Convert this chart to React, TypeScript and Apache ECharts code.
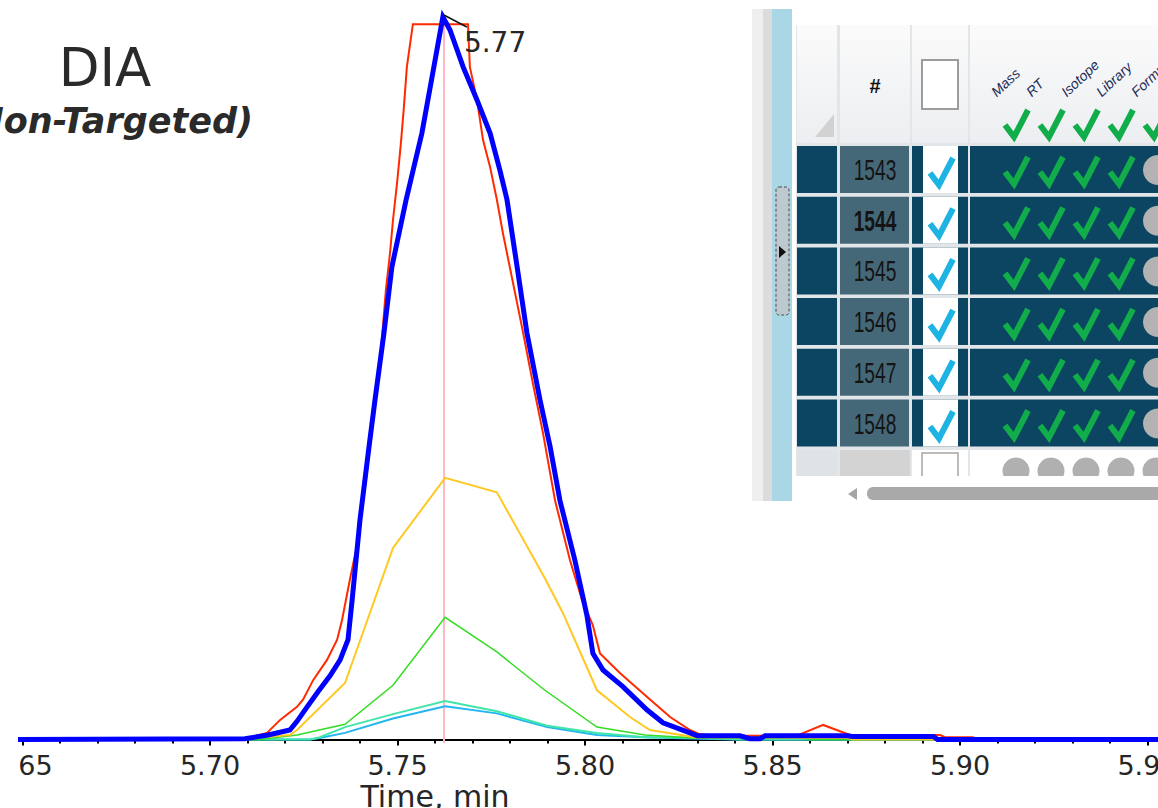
import React, { useEffect, useRef } from "react";
import * as echarts from "echarts";

// Extracted-ion chromatograms: retention time (min) and intensity (% of base peak)
const blueTime = [5.6488, 5.7093, 5.7155, 5.7213, 5.7232, 5.7259, 5.7288, 5.732, 5.7347, 5.7368, 5.7379, 5.74, 5.7424, 5.744, 5.7464, 5.7485, 5.7523, 5.7565, 5.7597, 5.7621, 5.764, 5.7675, 5.7712, 5.7747, 5.7773, 5.7792, 5.7819, 5.7845, 5.788, 5.7907, 5.7933, 5.7973, 5.8005, 5.8021, 5.8048, 5.8101, 5.8165, 5.8208, 5.828, 5.8299, 5.8413, 5.844, 5.8467, 5.848, 5.8701, 5.8712, 5.8929, 5.894, 5.98];
const blueIntensity = [0, 0.1, 0.6, 1.3, 2.5, 4.5, 6.6, 8.8, 11.0, 13.8, 19.3, 30.4, 40.5, 47.0, 56.3, 65.4, 74.7, 83.9, 93.1, 100, 98.2, 93.1, 88.5, 83.9, 78.8, 74.7, 65.4, 56.3, 47.0, 40.5, 33.1, 24.8, 17.2, 11.9, 9.6, 7.3, 4.1, 2.3, 0.9, 0.5, 0.5, 0.1, 0.1, 0.5, 0.5, 0.4, 0.4, 0, 0];

const redTime = [5.6488, 5.7093, 5.7107, 5.7152, 5.7187, 5.7232, 5.7248, 5.7275, 5.7312, 5.7339, 5.7352, 5.7373, 5.7395, 5.7416, 5.7432, 5.7445, 5.7456, 5.7469, 5.748, 5.7488, 5.7499, 5.7509, 5.7517, 5.7525, 5.7541, 5.7688, 5.7693, 5.7712, 5.7728, 5.7747, 5.7765, 5.7781, 5.7808, 5.7835, 5.7861, 5.7888, 5.792, 5.796, 5.7992, 5.8021, 5.804, 5.8093, 5.8165, 5.8227, 5.828, 5.8307, 5.836, 5.8565, 5.8635, 5.8712, 5.8869, 5.8947, 5.896, 5.9035, 5.904, 5.98];
const redIntensity = [0, 0, 0.3, 0.9, 2.7, 4.5, 5.5, 8.2, 11.0, 13.8, 16.5, 22.1, 27.6, 36.0, 42.9, 48.0, 53.9, 62.2, 67.3, 71.9, 77.1, 82.5, 87.5, 93.1, 99.0, 99.0, 93.1, 88.5, 83.0, 79.2, 74.7, 70.1, 63.2, 56.3, 49.3, 42.4, 33.1, 24.8, 19.3, 15.8, 11.9, 9.2, 5.9, 3.1, 1.3, 0.7, 0.5, 0.5, 2.0, 0.5, 0.6, 0.6, 0.3, 0.3, 0, 0];

const yellowTime = [5.6488, 5.7093, 5.7133, 5.7213, 5.7232, 5.736, 5.7488, 5.7627, 5.7765, 5.7893, 5.7941, 5.8032, 5.812, 5.8173, 5.8293, 5.8701, 5.8712, 5.98];
const yellowIntensity = [0, 0, 0.3, 0.6, 1.3, 7.8, 26.5, 36.2, 34.2, 22.3, 17.5, 6.8, 3.1, 1.3, 0.3, 0.2, 0, 0];

const greenTime = [5.6488, 5.7133, 5.7232, 5.736, 5.7488, 5.7627, 5.7765, 5.7893, 5.8032, 5.816, 5.8293, 5.8573, 5.86, 5.98];
const greenIntensity = [0, 0, 0.6, 2.1, 7.5, 16.9, 12.1, 6.8, 1.7, 0.6, 0.2, 0.2, 0, 0];

const aquaTime = [5.6488, 5.7267, 5.7293, 5.736, 5.7488, 5.7627, 5.7765, 5.7899, 5.8032, 5.816, 5.8307, 5.8413, 5.98];
const aquaIntensity = [0, 0, 0.3, 1.7, 3.5, 5.3, 3.9, 1.9, 0.9, 0.3, 0.2, 0, 0];

const cyanTime = [5.6488, 5.7267, 5.7293, 5.736, 5.7488, 5.7627, 5.7765, 5.7899, 5.8032, 5.816, 5.8307, 5.8413, 5.98];
const cyanIntensity = [0, 0, 0.2, 0.9, 2.9, 4.6, 3.6, 1.7, 0.6, 0.3, 0.1, 0, 0];

// Apex annotation and the retention-time marker
const apexTime = 5.7621;
const apexIntensity = 100;
const apexLabel = "5.77";
const markerTime = 5.7622;

// Axis range (min is a multiple of the tick interval)
const axisMin = 5.6;
const axisMax = 5.98;
const tickInterval = 0.05;

// Compound table shown in the results panel
const rowIds = [1543, 1544, 1545, 1546, 1547, 1548];
const selectedRow = 1544;
const scoreColumns = ["Mass", "RT", "Isotope", "Library", "Formula"];

const SHIFT = 200; // canvas starts this far to the left of the visible window
const px = (x: number) => x + SHIFT;

const zip = (t: number[], v: number[]) => t.map((x, i) => [x, v[i]]);

const DARK = "#0b4562";
const ID_CELL = "#456878";
const GREEN = "#12ad4b";
const CYAN = "#1db3e2";

function box(x: number, y: number, w: number, h: number, fill: any, z = 60, extra: any = {}) {
  const style: any = { fill };
  if (extra.stroke) {
    style.stroke = extra.stroke;
    style.lineWidth = extra.lineWidth ?? 1;
    if (extra.lineDash) style.lineDash = extra.lineDash;
  }
  return { type: "rect", z, shape: { x: px(x), y, width: w, height: h, r: extra.r ?? 0 }, style };
}

function check(cx: number, cy: number, color: string, z = 63) {
  return {
    type: "polyline",
    z,
    shape: { points: [[px(cx - 11), cy + 1], [px(cx - 2), cy + 13], [px(cx + 12), cy - 14]] },
    style: { stroke: color, lineWidth: 6, lineJoin: "miter", lineCap: "butt" },
  };
}

function label(x: number, y: number, text: string, font: string, fill: string, align: string, vAlign: string, z = 63, extra: any = {}) {
  return {
    type: "text",
    z,
    x: px(x),
    y,
    ...extra,
    style: { text, font, fill, align, verticalAlign: vAlign, textAlign: align, textVerticalAlign: vAlign },
  };
}

function panelGraphics(): any[] {
  const g: any[] = [];
  const headerFill = new echarts.graphic.LinearGradient(0, 0, 0, 1, [
    { offset: 0, color: "#fbfbfb" },
    { offset: 1, color: "#eceef1" },
  ]);
  // frame and side strips
  g.push(box(752, 9, 470, 492, "#ffffff", 55));
  g.push(box(752, 9, 11, 492, "#efefef", 56));
  g.push(box(763, 9, 9, 492, "#dcdcdc", 56));
  g.push(box(772, 9, 20, 492, "#a9d7e6", 56));
  g.push(box(776, 187, 13, 128, "#bccad0", 57, { stroke: "#4a4a4a", lineWidth: 1, lineDash: [3, 2], r: 3 }));
  g.push({ type: "polygon", z: 58, shape: { points: [[px(779), 246], [px(779), 258], [px(786), 252]] }, style: { fill: "#111" } });
  // grid lines background
  g.push(box(796, 25, 430, 451, "#e2e6e9", 57));
  // header
  g.push(box(797, 25, 40, 118, headerFill, 58));
  g.push(box(840, 25, 70, 118, headerFill, 58));
  g.push(box(912, 25, 56, 118, headerFill, 58));
  g.push(box(970, 25, 260, 118, headerFill, 58));
  g.push({ type: "polygon", z: 59, shape: { points: [[px(815), 137], [px(834), 137], [px(834), 114]] }, style: { fill: "#d2d2d2" } });
  g.push(label(875, 86, "#", 'bold 20px "Liberation Sans"', "#111", "center", "middle"));
  g.push(box(922, 60, 36, 49, "#ffffff", 59, { stroke: "#9c9c9c", lineWidth: 2 }));
  const rot = (43 * Math.PI) / 180;
  scoreColumns.forEach((name, i) => {
    g.push(label(998 + i * 35, 99, name, 'italic 14px "Liberation Sans"', "#1c2a55", "left", "bottom", 63, { rotation: rot }));
    g.push(check(1016 + i * 35, 124, GREEN));
  });
  // result rows
  rowIds.forEach((id, i) => {
    const y = 146 + i * 50.7;
    g.push(box(797, y, 40, 47, DARK, 60));
    g.push(box(840, y, 69, 47, ID_CELL, 60));
    g.push(box(912, y, 56, 47, DARK, 60));
    g.push(box(923, y, 35, 47, "#ffffff", 61));
    g.push(box(970, y, 260, 47, DARK, 60));
    g.push(
      label(875, y + 24, String(id), `${id === selectedRow ? "bold " : ""}24px "Liberation Sans"`, "#141414", "center", "middle", 63, {
        scaleX: 0.8,
        scaleY: 1.2,
      })
    );
    g.push(check(941, y + 26, CYAN));
    for (let k = 0; k < 4; k++) g.push(check(1016 + k * 35, y + 25, GREEN));
    g.push({ type: "circle", z: 62, shape: { cx: px(1158), cy: y + 24, r: 15 }, style: { fill: "#b3b3b3" } });
  });
  // empty new-row line
  g.push(box(797, 450, 40, 30, "#e0e3e6", 60));
  g.push(box(840, 450, 70, 30, "#d3d3d3", 60));
  g.push(box(912, 450, 56, 30, "#ffffff", 60));
  g.push(box(970, 450, 260, 30, "#ffffff", 60));
  g.push(box(922, 453, 36, 32, "#ffffff", 61, { stroke: "#a5a5a5", lineWidth: 1.5 }));
  for (let k = 0; k < 5; k++) {
    g.push({ type: "circle", z: 61, shape: { cx: px(1016 + k * 35), cy: 471, r: 13.5 }, style: { fill: "#b0b0b0" } });
  }
  g.push(box(796, 476, 430, 25, "#ffffff", 62));
  // horizontal scroll bar
  g.push({ type: "polygon", z: 63, shape: { points: [[px(848), 494], [px(857), 488], [px(857), 500]] }, style: { fill: "#a6a6a6" } });
  g.push(box(867, 487, 330, 13, "#a9a9a9", 63, { r: 6 }));
  return g;
}

function titleGraphics(): any[] {
  return [
    // keeps the plot edge at the left border of the figure
    { type: "rect", z: 80, shape: { x: 0, y: 0, width: px(18), height: 808 }, style: { fill: "#ffffff" } },
    label(105, 67, "DIA", '500 53px "DejaVu Sans"', "#2a2a2a", "center", "middle", 90),
    label(253, 121, "(Non-Targeted)", 'italic bold 35px "DejaVu Sans"', "#2a2a2a", "right", "middle", 90),
    label(435, 796, "Time, min", '30px "DejaVu Sans"', "#262626", "center", "middle", 90),
  ];
}

export default function App() {
  const ref = useRef<HTMLDivElement>(null);

  useEffect(() => {
    if (!ref.current) return;
    const chart = echarts.init(ref.current, undefined, { renderer: "svg" });
    const lineSeries = (name: string, t: number[], v: number[], color: string, width: number, extra: any = {}) => ({
      name,
      type: "line",
      data: zip(t, v),
      showSymbol: false,
      symbol: "none",
      clip: false,
      lineStyle: { color, width, join: "miter" },
      itemStyle: { color },
      ...extra,
    });

    chart.setOption({
      animation: false,
      backgroundColor: "#ffffff",
      grid: { left: 35, right: 40, top: 17, bottom: 65 },
      xAxis: {
        type: "value",
        min: axisMin,
        max: axisMax,
        interval: tickInterval,
        axisLine: { show: true, lineStyle: { color: "#000", width: 2 } },
        axisTick: { show: true, length: 6, lineStyle: { color: "#000", width: 2 } },
        minorTick: { show: true, splitNumber: 5, length: 4, lineStyle: { color: "#000", width: 2 } },
        splitLine: { show: false },
        axisLabel: {
          margin: 9,
          fontFamily: "DejaVu Sans",
          fontSize: 27,
          color: "#262626",
          formatter: (v: number) => v.toFixed(2),
        },
      },
      yAxis: { type: "value", min: -0.5, max: 100, show: false, splitLine: { show: false } },
      series: [
        lineSeries("XIC 5", cyanTime, cyanIntensity, "#22b6f0", 2, {
          markLine: {
            silent: true,
            symbol: "none",
            precision: 4,
            label: { show: false },
            lineStyle: { color: "#ffb8c6", width: 2, type: "solid" },
            data: [{ xAxis: markerTime }],
            z: 1,
          },
        }),
        lineSeries("XIC 4", aquaTime, aquaIntensity, "#3fe6a8", 2),
        lineSeries("XIC 3", greenTime, greenIntensity, "#33dd22", 1.5),
        lineSeries("XIC 2", yellowTime, yellowIntensity, "#ffc822", 2),
        lineSeries("XIC 1", redTime, redIntensity, "#ff2a00", 2),
        lineSeries("TIC", blueTime, blueIntensity, "#0000ff", 5),
      ],
      graphic: [...panelGraphics(), ...titleGraphics()],
    });

    const [ax, ay] = chart.convertToPixel({ xAxisIndex: 0, yAxisIndex: 0 }, [apexTime, apexIntensity]) as number[];
    chart.setOption({
      graphic: [
        ...panelGraphics(),
        ...titleGraphics(),
        { type: "line", z: 70, shape: { x1: ax + 1, y1: ay - 2, x2: ax + 24, y2: ay + 10 }, style: { stroke: "#111", lineWidth: 1.5 } },
        { type: "text", z: 70, x: ax + 21, y: ay + 25, style: { text: apexLabel, font: '28px "DejaVu Sans"', fill: "#262626", align: "left", verticalAlign: "middle", textAlign: "left", textVerticalAlign: "middle" } },
      ],
    });

    return () => chart.dispose();
  }, []);

  return (
    <div style={{ position: "fixed", left: 0, top: 0, width: 1158, height: 808, overflow: "hidden", background: "#fff" }}>
      <div ref={ref} style={{ position: "absolute", left: -SHIFT, top: 0, width: 1500, height: 808 }} />
    </div>
  );
}
